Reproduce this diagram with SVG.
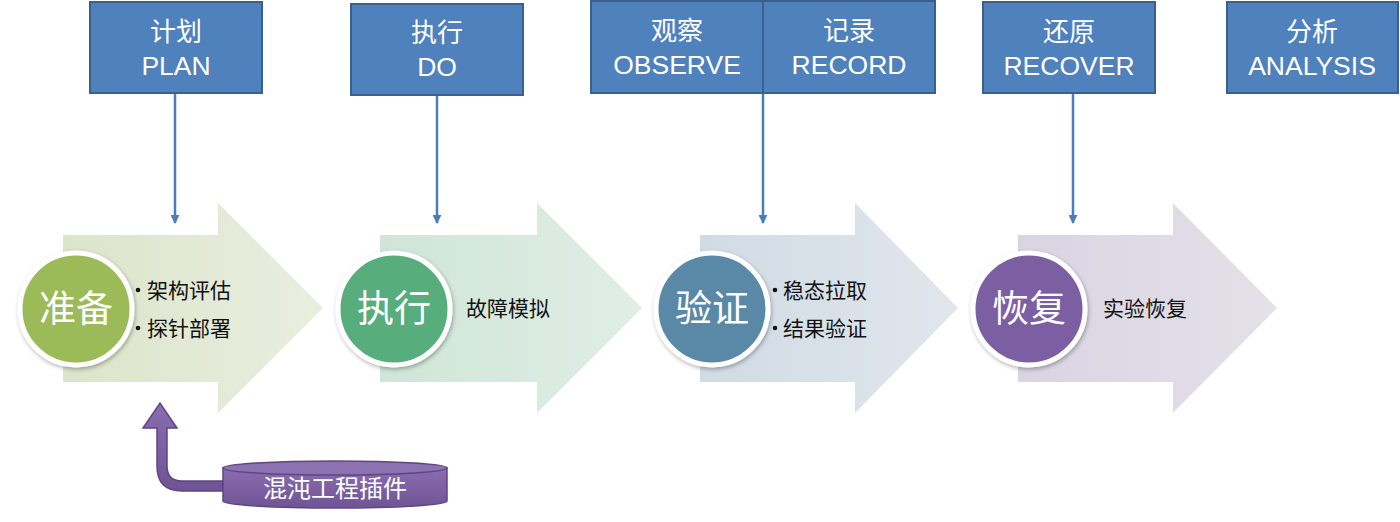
<svg xmlns="http://www.w3.org/2000/svg" width="1400" height="522" viewBox="0 0 1400 522">
<style>
.box{fill:#4f81bd;stroke:#3a6090;stroke-width:2}
.bt{font-family:"Liberation Sans","Noto Sans CJK SC",sans-serif;fill:#fff;text-anchor:middle}
.c1{font-size:26px}
.c2{font-size:26.5px}
.conn{stroke:#4a7ebb;stroke-width:2.5;fill:none}
.circ{stroke:#fff;stroke-width:5}
.ct{font-family:"Noto Sans CJK SC",sans-serif;font-size:37px;fill:#fff;text-anchor:middle}
.lt{font-family:"Noto Sans CJK SC",sans-serif;font-size:21px;fill:#111}
.dot{fill:#111}
</style>
<defs>
<marker id="ah" viewBox="0 0 10 10" refX="9" refY="5" markerWidth="3.6" markerHeight="3.6" orient="auto" markerUnits="strokeWidth">
<path d="M0,0 L10,5 L0,10 Z" fill="#4a7ebb"/>
</marker>
<linearGradient id="g1" x1="0" x2="1" y1="0" y2="0"><stop offset="0" stop-color="#dce4cb"/><stop offset="1" stop-color="#e9eedf"/></linearGradient>
<linearGradient id="g2" x1="0" x2="1" y1="0" y2="0"><stop offset="0" stop-color="#cfe5d7"/><stop offset="1" stop-color="#e0eee5"/></linearGradient>
<linearGradient id="g3" x1="0" x2="1" y1="0" y2="0"><stop offset="0" stop-color="#d1dbe4"/><stop offset="1" stop-color="#e0e6ec"/></linearGradient>
<linearGradient id="g4" x1="0" x2="1" y1="0" y2="0"><stop offset="0" stop-color="#d8d4e2"/><stop offset="1" stop-color="#e4e1ea"/></linearGradient>
<linearGradient id="pg" x1="0" x2="0" y1="0" y2="1"><stop offset="0" stop-color="#8a6db0"/><stop offset="1" stop-color="#6f5494"/></linearGradient>
<filter id="sh" x="-20%" y="-20%" width="140%" height="140%"><feDropShadow dx="1" dy="2" stdDeviation="2" flood-color="#000" flood-opacity="0.3"/></filter>
</defs>

<g id="arrow1"><path d="M63,235 H218 V203 L323,308 L218,413 V382 H63 Z" fill="url(#g1)"/></g>
<g id="arrow2"><path d="M380,235 H537 V203 L642,308 L537,413 V382 H380 Z" fill="url(#g2)"/></g>
<g id="arrow3"><path d="M700,235 H855 V203 L958,308 L855,413 V382 H700 Z" fill="url(#g3)"/></g>
<g id="arrow4"><path d="M1018,235 H1173 V203 L1277,308 L1173,413 V382 H1018 Z" fill="url(#g4)"/></g>

<g id="connectors">
<line class="conn" x1="175" y1="93" x2="175" y2="223" marker-end="url(#ah)"/>
<line class="conn" x1="437" y1="95" x2="437" y2="223" marker-end="url(#ah)"/>
<line class="conn" x1="763" y1="93" x2="763" y2="223" marker-end="url(#ah)"/>
<line class="conn" x1="1073" y1="93" x2="1073" y2="223" marker-end="url(#ah)"/>
<path d="M223,481 H182 Q167,481 167,466 V428 H177 L160,403 L143,428 H157 V466 Q157,491 182,491 H223 Z" fill="url(#pg)" stroke="#5e4682" stroke-width="1.5"/>
</g>

<g id="box-plan"><rect class="box" x="90" y="2" width="172" height="91"/><text class="bt c1" x="176" y="41">计划</text><text class="bt c2" x="176" y="75">PLAN</text></g>
<g id="box-do"><rect class="box" x="351" y="4" width="172" height="91"/><text class="bt c1" x="437" y="42">执行</text><text class="bt c2" x="437" y="76">DO</text></g>
<g id="box-observe"><rect class="box" x="591" y="1" width="172" height="92"/><text class="bt c1" x="677" y="40">观察</text><text class="bt c2" x="677" y="74">OBSERVE</text></g>
<g id="box-record"><rect class="box" x="763" y="1" width="172" height="92"/><text class="bt c1" x="849" y="40">记录</text><text class="bt c2" x="849" y="74">RECORD</text></g>
<g id="box-recover"><rect class="box" x="983" y="2" width="172" height="91"/><text class="bt c1" x="1069" y="41">还原</text><text class="bt c2" x="1069" y="75">RECOVER</text></g>
<g id="box-analysis"><rect class="box" x="1227" y="2" width="171" height="91"/><text class="bt c1" x="1312" y="41">分析</text><text class="bt c2" x="1312" y="75">ANALYSIS</text></g>

<g id="step-prepare">
<circle class="circ" cx="76" cy="309" r="56" fill="#9bbb59" filter="url(#sh)"/>
<text class="ct" x="76" y="322">准备</text>
<circle class="dot" cx="138" cy="290" r="2.3"/><text class="lt" x="147" y="298">架构评估</text>
<circle class="dot" cx="138" cy="328" r="2.3"/><text class="lt" x="147" y="336">探针部署</text>
</g>
<g id="step-execute">
<circle class="circ" cx="394" cy="309" r="56" fill="#58ad7b" filter="url(#sh)"/>
<text class="ct" x="394" y="322">执行</text>
<text class="lt" x="466" y="316">故障模拟</text>
</g>
<g id="step-verify">
<circle class="circ" cx="712" cy="309" r="56" fill="#5a89a8" filter="url(#sh)"/>
<text class="ct" x="712" y="322">验证</text>
<circle class="dot" cx="775" cy="290" r="2.3"/><text class="lt" x="783" y="298">稳态拉取</text>
<circle class="dot" cx="775" cy="328" r="2.3"/><text class="lt" x="783" y="336">结果验证</text>
</g>
<g id="step-recover">
<circle class="circ" cx="1029" cy="309" r="56" fill="#7c5ea3" filter="url(#sh)"/>
<text class="ct" x="1029" y="322">恢复</text>
<text class="lt" x="1103" y="316">实验恢复</text>
</g>

<g id="chaos-plugin">
<path d="M223,468 V501 A112,7 0 0 0 447,501 V468 Z" fill="url(#pg)" stroke="#5e4682" stroke-width="1.5"/>
<ellipse cx="335" cy="468" rx="112" ry="7" fill="#8c72b0" stroke="#5e4682" stroke-width="1.5"/>
<text x="335" y="497" font-family="Noto Sans CJK SC,sans-serif" font-size="24" fill="#fff" text-anchor="middle">混沌工程插件</text>
</g>
</svg>
